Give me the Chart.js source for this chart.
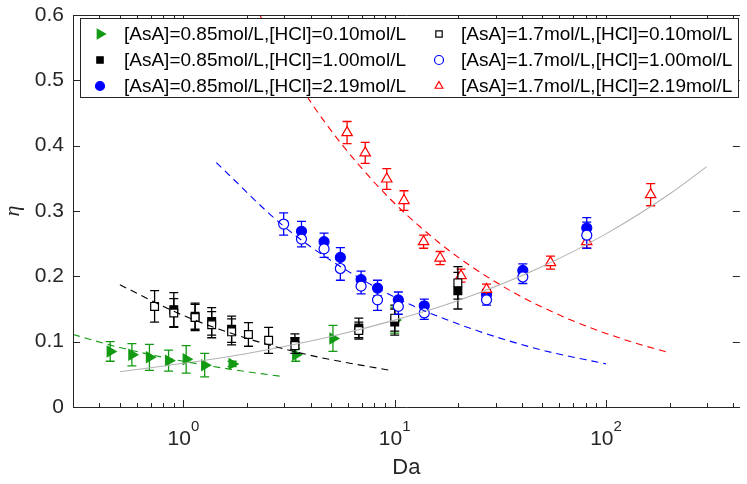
<!DOCTYPE html>
<html>
<head>
<meta charset="utf-8">
<script src="https://cdn.jsdelivr.net/npm/chart.js@4.4.0/dist/chart.umd.min.js"></script>
<style>
  html, body { margin: 0; padding: 0; background: #fff; }
  #wrap { width: 747px; height: 484px; }
</style>
</head>
<body>
<div id="wrap"><canvas id="etaChart" width="747" height="484"></canvas></div>
<script>
// measured efficiency vs Damkohler number, six feed conditions
const seriesLabels = [
  '[AsA]=0.85mol/L,[HCl]=0.10mol/L',
  '[AsA]=0.85mol/L,[HCl]=1.00mol/L',
  '[AsA]=0.85mol/L,[HCl]=2.19mol/L',
  '[AsA]=1.7mol/L,[HCl]=0.10mol/L',
  '[AsA]=1.7mol/L,[HCl]=1.00mol/L',
  '[AsA]=1.7mol/L,[HCl]=2.19mol/L'
];

// 0.85 / 0.10
const daA1 = [0.45, 0.57, 0.69, 0.85, 1.03, 1.26, 1.7, 3.4, 5.1, 10.0];
const etaA1 = [0.085, 0.080, 0.076, 0.071, 0.073, 0.064, 0.066, 0.080, 0.105, 0.133];
const errA1 = [0.015, 0.017, 0.020, 0.016, 0.021, 0.018, 0.004, 0.010, 0.020, 0.020];

// 0.85 / 1.00
const daA2 = [0.90, 1.135, 1.36, 1.69, 3.37, 6.76, 10.0, 19.9];
const etaA2 = [0.149, 0.139, 0.131, 0.119, 0.100, 0.121, 0.130, 0.178];
const errA2 = [0.026, 0.020, 0.021, 0.020, 0.012, 0.015, 0.020, 0.028];

// 0.85 / 2.19
const daA3 = [3.62, 4.63, 5.53, 6.93, 8.29, 10.4, 13.8, 27.2, 40.4, 81.1];
const etaA3 = [0.269, 0.253, 0.229, 0.195, 0.182, 0.164, 0.155, 0.172, 0.209, 0.274];
const errA3 = [0.015, 0.013, 0.015, 0.013, 0.012, 0.012, 0.010, 0.008, 0.010, 0.016];

// 1.7 / 0.10
const daB1 = [0.73, 0.90, 1.135, 1.36, 1.69, 2.03, 2.53, 3.37, 6.76, 10.0, 19.9];
const etaB1 = [0.154, 0.144, 0.137, 0.126, 0.115, 0.111, 0.102, 0.094, 0.117, 0.136, 0.190];
const errB1 = [0.024, 0.022, 0.020, 0.020, 0.020, 0.018, 0.020, 0.012, 0.013, 0.020, 0.025];

// 1.7 / 1.00
const daB2 = [2.98, 3.62, 4.63, 5.53, 6.93, 8.29, 10.4, 13.8, 27.2, 40.4, 81.1];
const etaB2 = [0.280, 0.257, 0.242, 0.212, 0.185, 0.164, 0.154, 0.144, 0.164, 0.199, 0.263];
const errB2 = [0.017, 0.012, 0.013, 0.018, 0.012, 0.016, 0.012, 0.010, 0.008, 0.010, 0.020];

// 1.7 / 2.19
const daB3 = [5.95, 7.25, 9.17, 11.06, 13.7, 16.4, 20.6, 27.2, 54.6, 81.1, 162.7];
const etaB3 = [0.420, 0.389, 0.349, 0.316, 0.253, 0.228, 0.201, 0.180, 0.221, 0.253, 0.325];
const errB3 = [0.017, 0.016, 0.016, 0.015, 0.010, 0.010, 0.010, 0.008, 0.010, 0.010, 0.017];

// fitted trend curves
const fitGreenDa = [0.3, 0.5, 1, 2, 2.9];
const fitGreenEta = [0.111, 0.091, 0.070, 0.054, 0.047];
const fitBlackDa = [0.5, 1, 2, 4, 9.5];
const fitBlackEta = [0.187, 0.140, 0.105, 0.079, 0.056];
const fitBlueDa = [1.43, 3, 6, 12, 25, 50, 100];
const fitBlueEta = [0.374, 0.276, 0.208, 0.156, 0.116, 0.087, 0.066];
const fitRedDa = [2, 4, 8, 16, 32, 64, 128, 200];
const fitRedEta = [0.634, 0.467, 0.344, 0.253, 0.186, 0.137, 0.101, 0.083];
const fitGrayDa = [0.5, 1, 2, 5, 10, 20, 50, 100, 200, 300];
const fitGrayEta = [0.054, 0.067, 0.082, 0.108, 0.133, 0.163, 0.215, 0.265, 0.326, 0.368];

const yTicks = [0, 0.1, 0.2, 0.3, 0.4, 0.5, 0.6];
const xDecades = [1, 10, 100];

const GREEN = '#129a12';
const FONT = "'Liberation Sans', Arial, sans-serif";

const pts = (xs, ys) => xs.map((v, i) => ({ x: v, y: ys[i] }));

function markerSet(label, xs, ys, errs, color, style, filled, order, extra) {
  return Object.assign({
    label: label,
    data: pts(xs, ys),
    errors: errs,
    showLine: false,
    pointStyle: style,
    pointRadius: 5,
    pointBorderWidth: 1.2,
    borderColor: color,
    backgroundColor: filled ? color : '#ffffff',
    pointBackgroundColor: filled ? color : '#ffffff',
    pointBorderColor: color,
    order: order
  }, extra || {});
}

function fitSet(xs, ys, color, dashed) {
  return {
    label: '',
    isFit: true,
    data: pts(xs, ys),
    showLine: true,
    pointRadius: 0,
    borderWidth: 1.1,
    borderColor: color,
    borderDash: dashed ? [7, 5] : [],
    cubicInterpolationMode: 'monotone',
    order: 0
  };
}

// vertical error bars, drawn right before each marker set so markers sit on top
const errorBars = {
  id: 'errorBars',
  beforeDatasetDraw(chart, args) {
    const ds = chart.data.datasets[args.index];
    if (!ds.errors) return;
    const { ctx, scales: { x, y } } = chart;
    ctx.save();
    ctx.strokeStyle = ds.borderColor;
    ctx.lineWidth = 1.3;
    ds.data.forEach((p, i) => {
      const e = ds.errors[i];
      const px = x.getPixelForValue(p.x);
      const top = y.getPixelForValue(p.y + e);
      const bot = y.getPixelForValue(p.y - e);
      ctx.beginPath();
      ctx.moveTo(px, top); ctx.lineTo(px, bot);
      ctx.moveTo(px - 4.5, top); ctx.lineTo(px + 4.5, top);
      ctx.moveTo(px - 4.5, bot); ctx.lineTo(px + 4.5, bot);
      ctx.stroke();
    });
    ctx.restore();
  }
};

// box, inward ticks, x labels as 10^n and the legend box
const axesFrame = {
  id: 'axesFrame',
  afterDraw(chart) {
    const { ctx, chartArea: a, scales: { x, y } } = chart;
    ctx.save();
    ctx.strokeStyle = '#262626';
    ctx.lineWidth = 1;
    ctx.beginPath();
    ctx.moveTo(a.left + 0.5, a.top + 0.5);
    ctx.lineTo(a.right, a.top + 0.5);
    ctx.moveTo(a.left + 0.5, a.top);
    ctx.lineTo(a.left + 0.5, a.bottom + 0.5);
    ctx.lineTo(a.right, a.bottom + 0.5);

    // log ticks on bottom and top
    for (let d = 0.1; d <= 1000; d *= 10) {
      for (let m = 1; m <= 9; m++) {
        const v = d * m;
        if (v < x.min || v > x.max) continue;
        const px = Math.round(x.getPixelForValue(v)) + 0.5;
        const len = m === 1 ? 7 : 4;
        ctx.moveTo(px, a.bottom); ctx.lineTo(px, a.bottom - len);
        ctx.moveTo(px, a.top); ctx.lineTo(px, a.top + len);
      }
    }
    yTicks.forEach(v => {
      const py = Math.round(y.getPixelForValue(v)) + 0.5;
      ctx.moveTo(a.left, py); ctx.lineTo(a.left + 7, py);
      ctx.moveTo(a.right, py); ctx.lineTo(a.right - 7, py);
    });
    ctx.stroke();

    // 10^n labels
    ctx.fillStyle = '#262626';
    ctx.textBaseline = 'alphabetic';
    xDecades.forEach(v => {
      const px = x.getPixelForValue(v);
      const exp = String(Math.round(Math.log10(v)));
      ctx.font = '21px ' + FONT;
      const wBase = ctx.measureText('10').width;
      ctx.font = '15px ' + FONT;
      const wExp = ctx.measureText(exp).width;
      const left = px - (wBase + wExp) / 2;
      ctx.font = '21px ' + FONT;
      ctx.textAlign = 'left';
      ctx.fillText('10', left, a.bottom + 38);
      ctx.font = '15px ' + FONT;
      ctx.fillText(exp, left + wBase, a.bottom + 24);
    });

    // legend
    const bx = 80, by = 18, bw = 658, bh = 79;
    ctx.fillStyle = '#ffffff';
    ctx.fillRect(bx, by, bw, bh);
    ctx.strokeStyle = '#262626';
    ctx.strokeRect(bx + 0.5, by + 0.5, bw, bh);
    const cols = [{ mx: 100, tx: 124 }, { mx: 439, tx: 461 }];
    const rows = [34, 60, 86];
    const sets = chart.data.datasets.filter(ds => !ds.isFit);
    sets.forEach((ds, i) => {
      const c = cols[Math.floor(i / 3)];
      const ry = rows[i % 3];
      ctx.fillStyle = ds.pointBackgroundColor;
      ctx.strokeStyle = ds.pointBorderColor;
      ctx.lineWidth = 1.2;
      Chart.helpers.drawPoint(ctx, {
        pointStyle: ds.pointStyle,
        radius: ds.legendRadius || 4.5,
        rotation: ds.pointRotation || 0,
        borderWidth: 1.2
      }, c.mx, ry);
      ctx.fillStyle = '#000000';
      ctx.font = '19px ' + FONT;
      ctx.textAlign = 'left';
      ctx.textBaseline = 'middle';
      ctx.fillText(ds.label, c.tx, ry + 1);
    });
    ctx.restore();
  }
};

const datasets = [
  markerSet(seriesLabels[0], daA1, etaA1, errA1, GREEN, 'triangle', true, 6, { pointRotation: 90, pointRadius: 6, legendRadius: 5.5 }),
  markerSet(seriesLabels[1], daA2, etaA2, errA2, '#000000', 'rect', true, 5, { pointRadius: 5.5 }),
  markerSet(seriesLabels[2], daA3, etaA3, errA3, '#0000ff', 'circle', true, 4),
  markerSet(seriesLabels[3], daB1, etaB1, errB1, '#000000', 'rect', false, 2, { pointRadius: 5.5 }),
  markerSet(seriesLabels[4], daB2, etaB2, errB2, '#0000ff', 'circle', false, 1),
  markerSet(seriesLabels[5], daB3, etaB3, errB3, '#ff0000', 'triangle', false, 3, { pointRadius: 6 }),
  fitSet(fitGreenDa, fitGreenEta, GREEN, true),
  fitSet(fitBlackDa, fitBlackEta, '#000000', true),
  fitSet(fitBlueDa, fitBlueEta, '#0000ff', true),
  fitSet(fitRedDa, fitRedEta, '#ff0000', true),
  fitSet(fitGrayDa, fitGrayEta, '#b3b3b3', false)
];

new Chart(document.getElementById('etaChart'), {
  type: 'scatter',
  data: { datasets: datasets },
  options: {
    responsive: false,
    animation: false,
    devicePixelRatio: 1,
    layout: { padding: { top: 15, right: 1, left: 0, bottom: 0 } },
    plugins: {
      legend: { display: false },
      tooltip: { enabled: false }
    },
    scales: {
      x: {
        type: 'logarithmic',
        min: 0.3,
        max: 430,
        grid: { display: false },
        border: { display: false },
        ticks: { display: false },
        title: {
          display: true,
          text: 'Da',
          color: '#262626',
          font: { family: FONT, size: 22 },
          padding: { top: 0, bottom: 3 }
        },
        afterFit(s) { s.height = 77; }
      },
      y: {
        min: 0,
        max: 0.6,
        grid: { display: false },
        border: { display: false },
        ticks: {
          stepSize: 0.1,
          padding: 1,
          color: '#262626',
          font: { family: FONT, size: 21 },
          callback: v => String(Number(v.toFixed(1)))
        },
        title: {
          display: true,
          text: 'η',
          color: '#262626',
          font: { family: "'Liberation Serif', serif", style: 'italic', size: 22 },
          padding: 0
        },
        afterFit(s) { s.width = 73; }
      }
    }
  },
  plugins: [errorBars, axesFrame]
});
</script>
</body>
</html>
